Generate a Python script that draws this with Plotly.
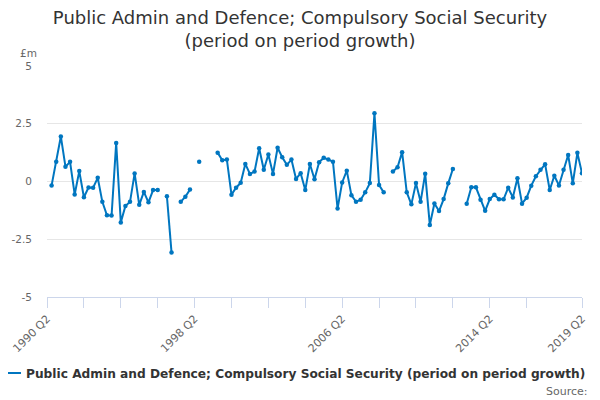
import plotly.graph_objects as go

# Quarter categories 1990 Q2 .. 2019 Q2
quarters = []
for yr in range(1990, 2020):
    for q in range(1, 5):
        if (yr == 1990 and q < 2) or (yr == 2019 and q > 2):
            continue
        quarters.append(f"{yr} Q{q}")

growth = [
    None, -0.17, 0.85, 1.95, 0.64, 0.85, -0.56, 0.45, -0.68, -0.26,
    -0.27, 0.16, -0.88, -1.46, -1.47, 1.67, -1.77, -1.06, -0.88, 0.35,
    -1.01, -0.45, -0.90, -0.37, -0.37, None, -0.64, -3.07, None, -0.88,
    -0.66, -0.35, None, 0.85, None, None, None, 1.25, 0.92, 0.95,
    -0.57, -0.27, -0.05, 0.76, 0.33, 0.43, 1.44, 0.51, 1.17, 0.33,
    1.46, 1.05, 0.72, 0.95, 0.11, 0.36, -0.37, 0.76, 0.10, 0.83,
    1.03, 0.95, 0.86, -1.17, -0.04, 0.47, -0.59, -0.88, -0.79, -0.47,
    -0.07, 2.95, -0.15, -0.47, None, 0.43, 0.62, 1.27, -0.47, -0.99,
    -0.07, -0.88, 0.34, -1.88, -0.95, -1.28, -0.76, -0.08, 0.54, None,
    None, -0.96, -0.25, -0.25, -0.79, -1.27, -0.76, -0.57, -0.77, -0.77,
    -0.27, -0.69, 0.14, -0.96, -0.70, -0.18, 0.23, 0.51, 0.75, -0.37,
    0.25, -0.17, 0.51, 1.15, -0.08, 1.24, 0.36,
]

series_name = "Public Admin and Defence; Compulsory Social Security (period on period growth)"
title_text = "Public Admin and Defence; Compulsory Social Security<br>(period on period growth)"
labelled_ticks = ["1990 Q2", "1998 Q2", "2006 Q2", "2014 Q2", "2019 Q2"]
tick_positions = quarters[0:105:8] + [quarters[-1]]
y_ticks = [-5, -2.5, 0, 2.5, 5]
y_tick_text = ["-5", "-2.5", "0", "2.5", "5"]

FONT = "DejaVu Sans"
BLUE = "#0076c0"

fig = go.Figure()
fig.add_trace(go.Scatter(
    x=quarters, y=growth, mode="lines+markers", name=series_name,
    line=dict(color=BLUE, width=2), marker=dict(color=BLUE, size=4.5),
    connectgaps=False, showlegend=True,
))

fig.update_layout(
    width=600, height=400,
    paper_bgcolor="white", plot_bgcolor="white",
    margin=dict(l=39, r=26, t=58, b=111, autoexpand=False),
    font=dict(family=FONT, color="#666666", size=11),
    title=dict(text=title_text, x=0.4867, xref="container", xanchor="center",
               y=0.96, yref="container", yanchor="top",
               font=dict(family=FONT, size=18, color="#333333")),
    showlegend=True,
    legend=dict(orientation="h", x=-0.114, xanchor="left", y=-0.329, yanchor="middle",
                font=dict(family=FONT, size=12.2, color="#333333", weight="bold"),
                itemwidth=30, bgcolor="rgba(0,0,0,0)"),
    xaxis=dict(type="category", categoryorder="array", categoryarray=quarters,
               range=[0, len(quarters) - 1], showgrid=False, zeroline=False,
               showline=True, linecolor="#ccd6eb", linewidth=1,
               ticks="outside", ticklen=10, tickcolor="#ccd6eb",
               tickvals=tick_positions,
               ticktext=[t if t in labelled_ticks else "" for t in tick_positions],
               tickangle=-45, automargin=False,
               tickfont=dict(family=FONT, size=11, color="#666666")),
    yaxis=dict(range=[-5, 5], tickvals=y_ticks, ticktext=y_tick_text,
               showgrid=True, gridcolor="#e6e6e6", gridwidth=1, zeroline=False,
               showline=False, ticks="", ticklabelstandoff=14, automargin=False,
               tickfont=dict(family=FONT, size=10.5, color="#666666")),
    annotations=[
        dict(text="£m", xref="paper", yref="paper", x=0, y=1, xanchor="right",
             yanchor="middle", xshift=-8, yshift=13, showarrow=False,
             font=dict(family=FONT, size=10.5, color="#666666")),
        dict(text="Source:", xref="paper", yref="paper", x=1, y=-0.407,
             xanchor="right", yanchor="middle", xshift=8, showarrow=False,
             font=dict(family=FONT, size=11, color="#666666")),
    ],
)

fig.write_html("out.html")
